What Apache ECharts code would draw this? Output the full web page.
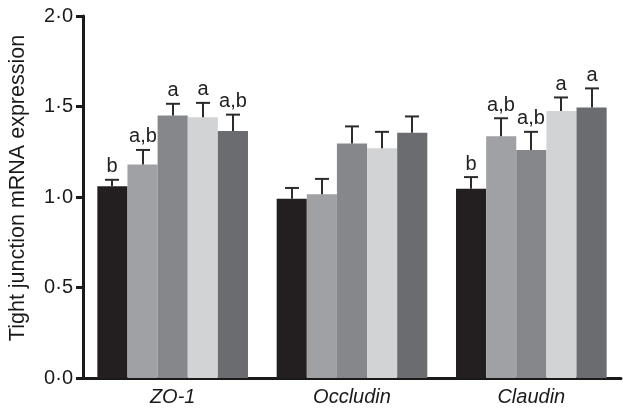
<!DOCTYPE html>
<html>
<head>
<meta charset="utf-8">
<script src="https://cdn.jsdelivr.net/npm/echarts@6/dist/echarts.min.js"></script>
<style>html,body{margin:0;padding:0;background:#fff}#c{width:623px;height:410px}</style>
</head>
<body>
<div id="c"></div>
<script>
const categories = ['ZO-1', 'Occludin', 'Claudin'];
const yTicks = [0, 0.5, 1.0, 1.5, 2.0];
// five treatment groups; each array holds values for ZO-1, Occludin, Claudin
const means1 = [1.06, 0.99, 1.045];
const means2 = [1.18, 1.015, 1.335];
const means3 = [1.45, 1.295, 1.26];
const means4 = [1.44, 1.27, 1.475];
const means5 = [1.365, 1.355, 1.495];
const errs1 = [0.035, 0.06, 0.065];
const errs2 = [0.08, 0.085, 0.10];
const errs3 = [0.065, 0.095, 0.10];
const errs4 = [0.08, 0.09, 0.075];
const errs5 = [0.09, 0.09, 0.105];
const letters1 = ['b', '', 'b'];
const letters2 = ['a,b', '', 'a,b'];
const letters3 = ['a', '', 'a,b'];
const letters4 = ['a', '', 'a'];
const letters5 = ['a,b', '', 'a'];
const colors = ['#231f20', '#a0a1a4', '#86878a', '#d2d3d5', '#6b6c70'];

const allMeans = [means1, means2, means3, means4, means5];
const allErrs = [errs1, errs2, errs3, errs4, errs5];
const allLetters = [letters1, letters2, letters3, letters4, letters5];
const FONT = 'Liberation Sans';
const GAP = 0.16;

const errData = [];
const errLetters = [];
allMeans.forEach((m, bi) => {
  m.forEach((v, ci) => {
    errData.push([ci, bi, v, allErrs[bi][ci]]);
    errLetters.push(allLetters[bi][ci]);
  });
});

const series = allMeans.map((m, bi) => ({
  type: 'bar',
  data: m,
  barGap: '0%',
  barCategoryGap: (GAP * 100) + '%',
  itemStyle: { color: colors[bi] },
  z: 2
}));

series.push({
  type: 'custom',
  data: errData,
  z: 5,
  clip: false,
  renderItem: function (params, api) {
    const ci = api.value(0), bi = api.value(1), mean = api.value(2), err = api.value(3);
    const band = api.size([1, 0])[0];
    const bw = band * (1 - GAP) / 5;
    const c = api.coord([ci, mean]);
    const top = api.coord([ci, mean + err]);
    const x = Math.round(c[0] + (bi - 2) * bw);
    const y0 = c[1], y1 = top[1];
    const cap = 7;
    const style = { stroke: '#2b2b2b', lineWidth: 2 };
    const children = [
      { type: 'line', shape: { x1: x, y1: y0, x2: x, y2: y1 }, style: style },
      { type: 'line', shape: { x1: x - cap, y1: y1, x2: x + cap, y2: y1 }, style: style }
    ];
    const lab = errLetters[params.dataIndex];
    if (lab) {
      children.push({
        type: 'text',
        style: {
          text: lab, x: x, y: y1 - 3,
          align: 'center', verticalAlign: 'bottom',
          font: '20px "' + FONT + '"', fill: '#222'
        }
      });
    }
    return { type: 'group', children: children };
  }
});

const chart = echarts.init(document.getElementById('c'), null, { renderer: 'canvas' });
chart.setOption({
  animation: false,
  backgroundColor: '#fff',
  grid: { left: 83, right: 2, top: 16, bottom: 32 },
  xAxis: {
    type: 'category',
    data: categories,
    axisLine: { lineStyle: { color: '#1a1a1a', width: 3 } },
    axisTick: { inside: true, length: 8, lineStyle: { color: '#1a1a1a', width: 2 } },
    axisLabel: { fontFamily: FONT, fontSize: 20, fontStyle: 'italic', color: '#1a1a1a', margin: 9 }
  },
  yAxis: {
    type: 'value',
    min: yTicks[0],
    max: yTicks[yTicks.length - 1],
    interval: yTicks[1] - yTicks[0],
    splitLine: { show: false },
    axisLine: { show: true, lineStyle: { color: '#1a1a1a', width: 3 } },
    axisTick: { show: true, length: 7, lineStyle: { color: '#1a1a1a', width: 3 } },
    axisLabel: {
      fontFamily: FONT, fontSize: 20, color: '#1a1a1a', margin: 10,
      formatter: v => v.toFixed(1).replace('.', '\u00b7')
    }
  },
  graphic: [{
    type: 'text',
    x: 18, y: 188,
    rotation: Math.PI / 2,
    style: {
      text: 'Tight junction mRNA expression',
      x: 0, y: 0, align: 'center', verticalAlign: 'middle',
      font: '21.5px "' + FONT + '"', fill: '#1a1a1a'
    }
  }],
  series: series
});
</script>
</body>
</html>
